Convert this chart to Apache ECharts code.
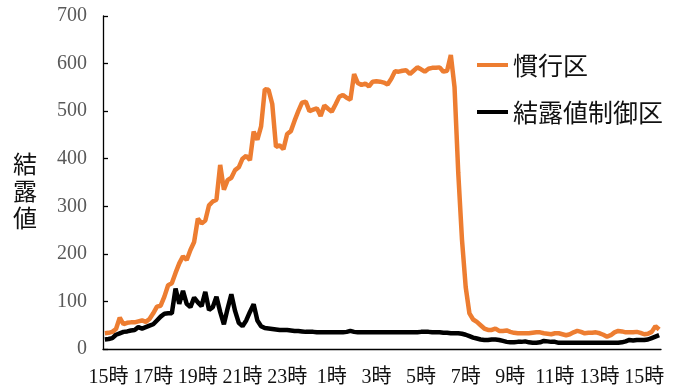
<!DOCTYPE html>
<html><head><meta charset="utf-8">
<script src="https://cdn.jsdelivr.net/npm/echarts@6/dist/echarts.min.js"></script>
<style>html,body{margin:0;padding:0;background:#fff}#c{width:686px;height:389px}</style>
</head><body><div id="c"></div>
<script>
// categories: 10-minute steps starting 14:50
var startMinutes = 14 * 60 + 50;
var stepMinutes = 10;
var categoryCount = 150;
var categories = [];
for (var k = 0; k < categoryCount; k++) {
  var m = (startMinutes + k * stepMinutes) % (24 * 60);
  var hh = Math.floor(m / 60), mm = m % 60;
  categories.push(hh + ':' + (mm < 10 ? '0' : '') + mm);
}
var seriesNames = ['慣行区', '結露値制御区'];
var conventional = [
  33,34,36,42,66,52,55,56,56,58, 60,57,63,75,89,91,110,134,138,160,
  180,195,187,208,225,274,264,270,302,310, 314,387,335,355,360,376,382,400,406,397,
  457,440,468,546,545,515,425,428,420,452, 458,480,500,518,520,500,503,506,490,512,
  505,499,514,530,534,528,524,578,559,555, 558,552,562,563,562,560,556,568,584,583,
  585,586,578,585,592,588,583,589,591,591, 592,583,585,618,550,370,230,130,75,62,
  57,50,43,40,40,43,38,38,39,36, 34,33,33,33,33,34,35,35,33,32,
  31,33,33,31,29,31,35,38,36,33, 34,34,35,33,30,26,29,35,38,37,
  35,35,35,36,34,31,32,36,48,41
];
var controlled = [
  20,21,23,30,33,36,37,39,40,46, 43,46,49,52,60,68,74,75,75,127,
  95,122,95,88,108,98,90,120,82,88, 110,78,52,85,115,80,55,48,60,78,
  94,60,48,44,43,42,41,40,40,40, 39,38,38,37,36,36,36,35,35,35,
  35,35,35,35,35,36,38,36,35,35, 35,35,35,35,35,35,35,35,35,35,
  35,35,35,35,35,36,36,36,35,35, 35,34,34,33,33,33,32,30,27,24,
  22,20,19,19,20,20,19,17,15,14, 14,15,15,16,14,13,13,14,17,16,
  15,15,13,13,13,13,13,13,13,13, 13,13,13,13,13,13,13,13,13,14,
  16,19,18,19,19,19,20,23,26,29
];
var yTicks = {min: 0, max: 700, step: 100};

var chart = echarts.init(document.getElementById('c'));
chart.setOption({
  animation: false,
  backgroundColor: '#fff',
  grid: {left: 103, right: 25, top: 16, bottom: 40, containLabel: false},
  legend: {
    orient: 'vertical', left: 477, top: 51, padding: 0,
    itemWidth: 31, itemHeight: 4, itemGap: 19, icon: 'rect',
    textStyle: {fontFamily: '"Noto Sans CJK JP"', fontSize: 25, color: '#111', lineHeight: 28},
    data: seriesNames
  },
  graphic: [{
    type: 'text', left: 13, top: 150,
    style: {text: '結\n露\n値', font: '24px "Noto Sans CJK JP"', lineHeight: 27, fill: '#111'}
  }],
  xAxis: {
    type: 'category', data: categories, boundaryGap: true,
    axisLine: {lineStyle: {color: '#000', width: 1.3}},
    axisTick: {interval: function (i) { return i % 8 === 0; }, length: 5, inside: false, lineStyle: {color: '#000', width: 1.3}},
    axisLabel: {
      interval: function (i) { return (i - 1) % 12 === 0; },
      formatter: function (v) { return parseInt(v.split(':')[0], 10) + '時'; },
      fontFamily: '"Liberation Serif", "Noto Sans CJK JP"', fontSize: 20, color: '#111', margin: 19
    },
    splitLine: {show: false}
  },
  yAxis: {
    type: 'value', min: yTicks.min, max: yTicks.max, interval: yTicks.step,
    axisLine: {show: true, lineStyle: {color: '#000', width: 1.3}},
    axisTick: {show: true, inside: true, length: 5, lineStyle: {color: '#000', width: 1.3}},
    axisLabel: {fontFamily: '"Liberation Serif"', fontSize: 20, color: '#595959', margin: 16},
    splitLine: {show: false}
  },
  series: [
    {name: seriesNames[0], type: 'line', data: conventional, symbol: 'none', lineStyle: {color: '#ED7D31', width: 4.5}, itemStyle: {color: '#ED7D31'}, z: 2},
    {name: seriesNames[1], type: 'line', data: controlled, symbol: 'none', lineStyle: {color: '#000', width: 4.5}, itemStyle: {color: '#000'}, z: 3}
  ]
});
</script></body></html>
